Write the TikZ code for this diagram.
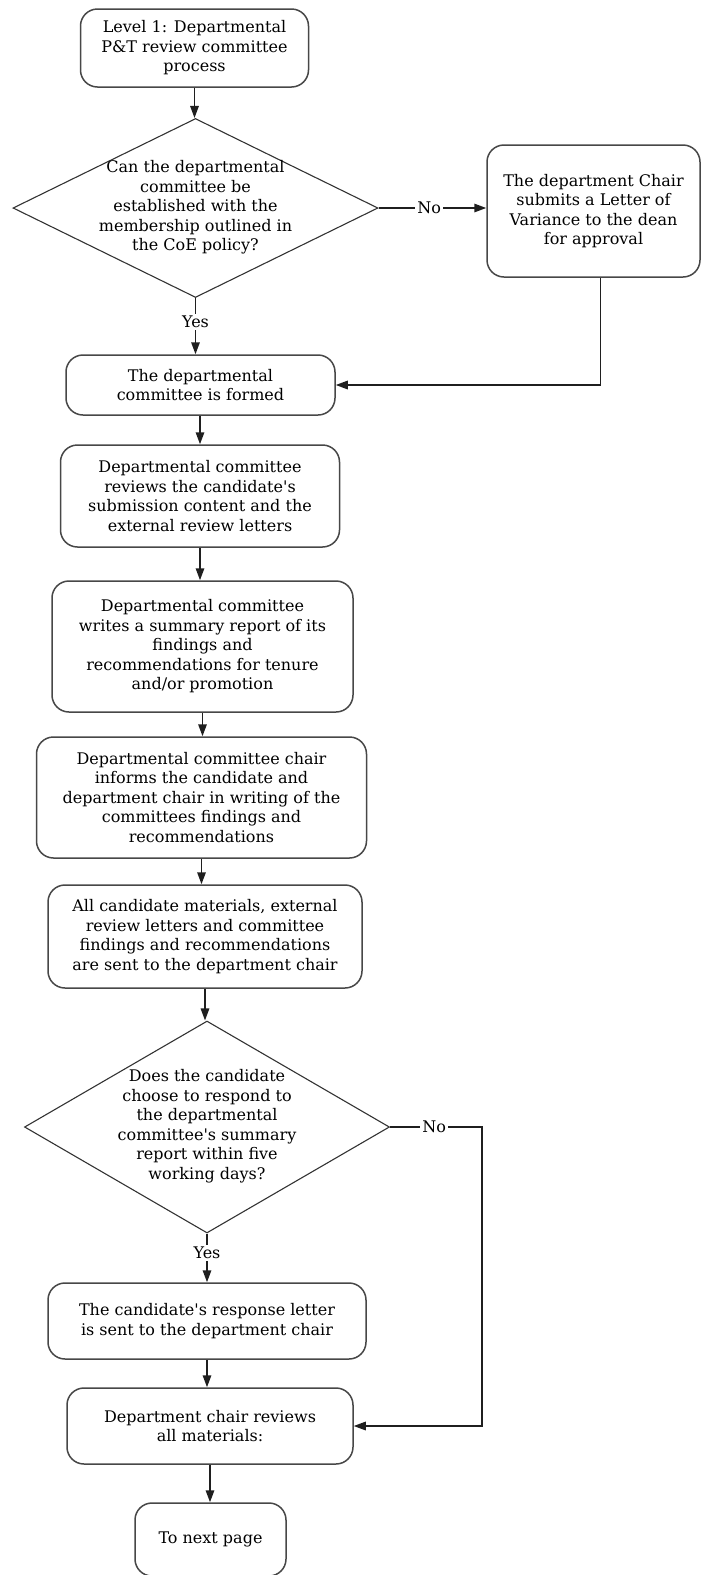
\documentclass[tikz,border=0pt]{standalone}
\usepackage{fontspec}
\setmainfont{DejaVu Serif}
\usetikzlibrary{shapes.geometric,arrows.meta}
\begin{document}
\begin{tikzpicture}[x=1pt,y=-1pt,
  tfont/.style={font=\fontsize{16}{19.5}\selectfont},
  box/.style={draw=black!72, line width=1.5pt, rounded corners=17pt, inner sep=0pt, align=center, tfont},
  dec/.style={draw=black!80, line width=1.1pt, diamond, inner sep=0pt},
  txt/.style={align=center, inner sep=0pt, tfont},
  arr/.style={draw=black!88, line width=1.5pt, -{Triangle[length=12pt,width=8.5pt]}},
  lbl/.style={fill=white, inner sep=2pt, tfont}]
\useasboundingbox (0,0) rectangle (701,1575);
\node[box, minimum width=228pt, minimum height=78pt] (start) at (194.5,48) {Level 1: Departmental\\P\&T review committee\\process};
\node[dec, minimum width=365pt, minimum height=179pt] (d1) at (195.5,208) {};
\node[txt] (d1t) at (195.5,207.5) {Can the departmental\\committee be\\established with the\\membership outlined in\\the CoE policy?};
\node[box, minimum width=213pt, minimum height=132pt] (var) at (593.5,211) {The department Chair\\submits a Letter of\\Variance to the dean\\for approval};
\node[box, minimum width=269pt, minimum height=60pt] (formed) at (200.5,385) {The departmental\\committee is formed};
\node[box, minimum width=279pt, minimum height=102pt] (reviews) at (200,496) {Departmental committee\\reviews the candidate\textquotesingle s\\submission content and the\\external review letters};
\node[box, minimum width=301pt, minimum height=131pt] (writes) at (202.5,646.5) {Departmental committee\\writes a summary report of its\\findings and\\recommendations for tenure\\and/or promotion};
\node[box, minimum width=330pt, minimum height=121pt] (informs) at (201.5,797.5) {Departmental committee chair\\informs the candidate and\\department chair in writing of the\\committees findings and\\recommendations};
\node[box, minimum width=314pt, minimum height=103pt] (all) at (205,936.5) {All candidate materials, external\\review letters and committee\\findings and recommendations\\are sent to the department chair};
\node[dec, minimum width=365pt, minimum height=212pt] (d2) at (207,1127) {};
\node[txt] (d2t) at (207,1126) {Does the candidate\\choose to respond to\\the departmental\\committee\textquotesingle s summary\\report within five\\working days?};
\node[box, minimum width=318pt, minimum height=76pt] (resp) at (207,1321) {The candidate\textquotesingle s response letter\\is sent to the department chair};
\node[box, minimum width=286pt, minimum height=76pt] (chair) at (210,1426) {Department chair reviews\\all materials:};
\node[box, minimum width=151pt, minimum height=73pt] (next) at (210.5,1539.5) {To next page};
\coordinate (n2) at (482,1127);
% connectors
\draw[arr] (start.south) -- (start.south |- d1.north);
\draw[arr] (d1.east) -- node[lbl, pos=0.47] {No} (d1.east -| var.west);
\draw[arr] ([xshift=7pt]var.south) |- (formed.east);
\draw[arr] (d1.south) -- node[lbl, pos=0.43] {Yes} (d1.south |- formed.north);
\draw[arr] (reviews.north |- formed.south) -- (reviews.north);
\draw[arr] (reviews.south) -- (reviews.south |- writes.north);
\draw[arr] (writes.south) -- (writes.south |- informs.north);
\draw[arr] (informs.south) -- (informs.south |- all.north);
\draw[arr] (all.south) -- (all.south |- d2.north);
\draw[arr] (d2.south) -- node[lbl, pos=0.4] {Yes} (d2.south |- resp.north);
\draw[arr] (d2.east) -- node[lbl, pos=0.48] {No} (n2) |- (chair.east);
\draw[arr] (resp.south) -- (resp.south |- chair.north);
\draw[arr] (chair.south) -- (chair.south |- next.north);
\end{tikzpicture}
\end{document}
